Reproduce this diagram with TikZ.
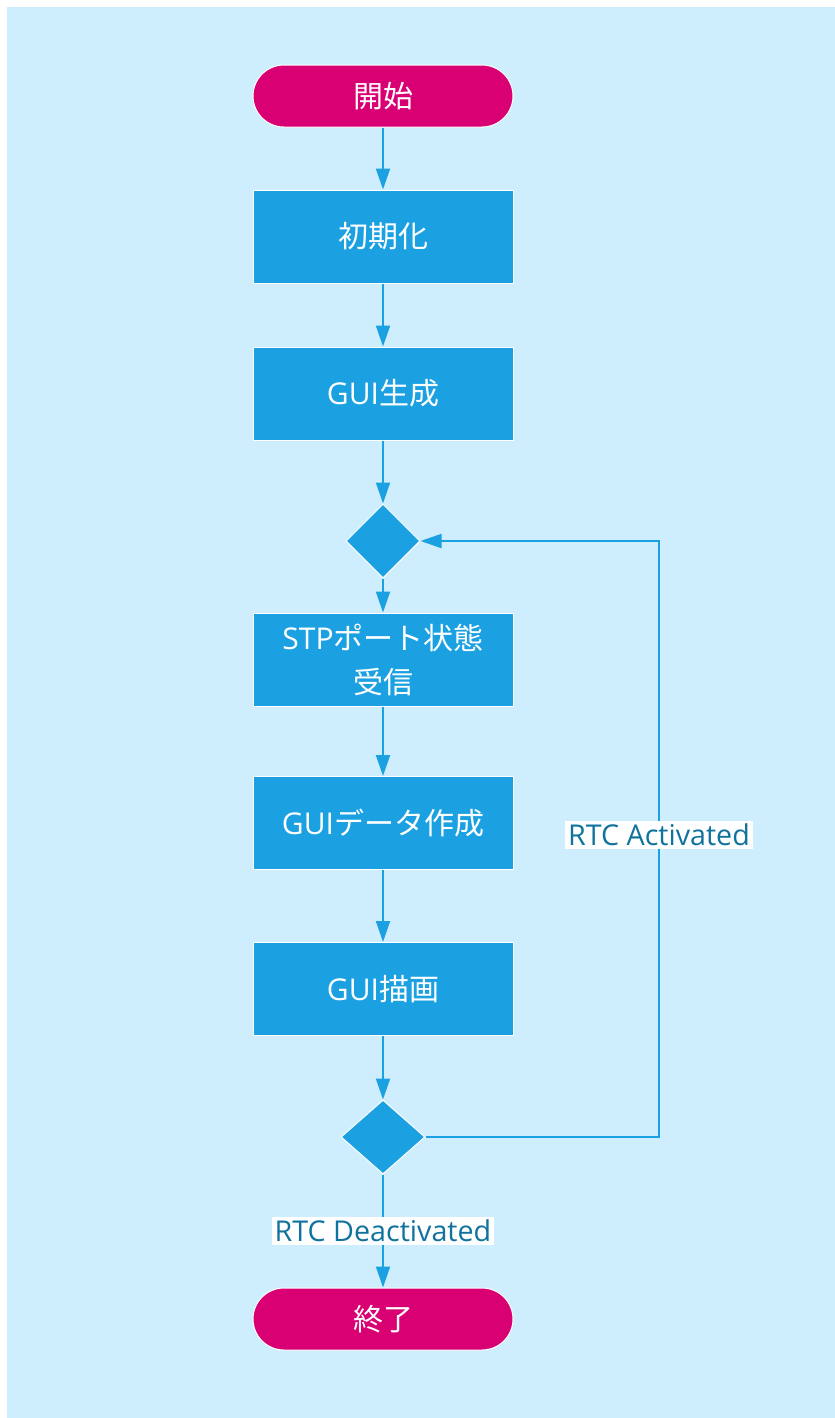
\documentclass[tikz,border=0pt]{standalone}
\usepackage{fontspec}
\setmainfont{Open Sans}
\newfontfamily\cjk{Noto Sans CJK JP}
\usetikzlibrary{shapes.geometric,arrows.meta}

\definecolor{bgblue}{HTML}{CFEEFD}
\definecolor{procblue}{HTML}{1BA1E2}
\definecolor{termpink}{HTML}{D80073}
\definecolor{labelblue}{HTML}{10739E}

\tikzset{every picture/.style={line width=1.5pt}}
\tikzset{
  procbox/.style={rectangle, fill=procblue, draw=white, line width=0.75pt,
    minimum width=195pt, minimum height=69.75pt, text=white, align=center,
    font=\fontsize{22.5}{33}\selectfont},
  termbox/.style={rectangle, rounded corners=23.25pt, fill=termpink, draw=white,
    line width=0.75pt, minimum width=195pt, minimum height=46.5pt, text=white,
    font=\fontsize{22.5}{27}\selectfont},
  decbox/.style={diamond, fill=procblue, draw=white, line width=0.75pt,
    minimum width=55.5pt, minimum height=55.5pt, inner sep=0pt},
  flow/.style={draw=procblue, -{Triangle[length=15.75pt,width=10.5pt]}},
  edgelabel/.style={fill=white, text=labelblue, inner sep=2pt,
    font=\fontsize{21.5}{26}\selectfont}
}

\begin{document}
\begin{tikzpicture}[x=0.75pt,y=0.75pt,yscale=-1,xscale=1]
\useasboundingbox (0,0) rectangle (835,1418);

%Shape: Rectangle [background]
\fill[bgblue] (7,7) rectangle (835,1418);

%Shape: Terminal
\node[termbox] (start) at (383,96) {\cjk 開始};
%Shape: Rectangle
\node[procbox] (init) at (383,236.5) {\cjk 初期化};
%Shape: Rectangle
\node[procbox] (guimake) at (383,393.5) {GUI{\cjk 生成}};
%Shape: Diamond
\node[decbox] (loophead) at (383,541) {};
%Shape: Rectangle
\node[procbox] (stprecv) at (383,659.5) {STP{\cjk ポート状態}\\{\cjk 受信}};
%Shape: Rectangle
\node[procbox] (guidata) at (383,823) {GUI{\cjk データ作成}};
%Shape: Rectangle
\node[procbox] (guidraw) at (383,989) {GUI{\cjk 描画}};
%Shape: Diamond
\node[decbox, minimum width=63pt] (loopend) at (383,1137) {};
%Shape: Terminal
\node[termbox] (finish) at (383,1319) {\cjk 終了};

%Straight Lines
\draw[flow] (start) -- (init);
\draw[flow] (init) -- (guimake);
\draw[flow] (guimake) -- (loophead);
\draw[flow] (loophead) -- (stprecv);
\draw[flow] (stprecv) -- (guidata);
\draw[flow] (guidata) -- (guidraw);
\draw[flow] (guidraw) -- (loopend);
\draw[flow] (loopend) -- node[edgelabel] (deaclabel) {RTC Deactivated} (finish);

%Loop back
\coordinate (loopcorner) at (659,1137);
\draw[flow] (loopend.east) -- (loopcorner) |- node[edgelabel, pos=0.2535] (actlabel) {RTC Activated} (loophead.east);

\end{tikzpicture}
\end{document}
